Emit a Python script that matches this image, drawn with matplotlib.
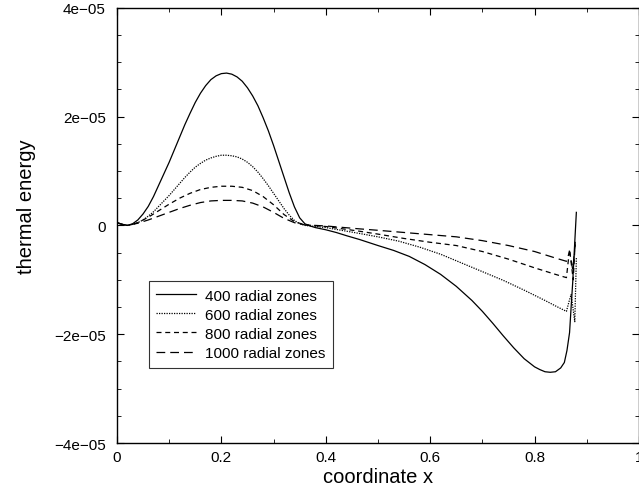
import numpy as np
import matplotlib
matplotlib.use("Agg")
import matplotlib.pyplot as plt
from matplotlib.ticker import MultipleLocator, FuncFormatter

plt.rcParams["font.family"] = ["Liberation Sans", "DejaVu Sans"]

# values, y in units of 1e-05
x400 = [0.00, 0.01, 0.02, 0.03, 0.04, 0.05, 0.06, 0.07, 0.08, 0.09, 0.10, 0.11, 0.12,
        0.13, 0.14, 0.15, 0.16, 0.17, 0.18, 0.19, 0.20, 0.21, 0.22, 0.23, 0.24, 0.25,
        0.26, 0.27, 0.28, 0.29, 0.30, 0.31, 0.32, 0.33, 0.34, 0.35, 0.36, 0.37, 0.38,
        0.40, 0.42, 0.44, 0.465, 0.50, 0.53, 0.56, 0.59, 0.62, 0.65, 0.68, 0.70, 0.72,
        0.74, 0.76, 0.78, 0.80, 0.81, 0.82, 0.83, 0.84, 0.85, 0.857, 0.862, 0.867,
        0.870, 0.873, 0.877, 0.880]
y400 = [0.05, 0.02, 0.00, 0.03, 0.10, 0.21, 0.35, 0.53, 0.74, 0.95, 1.16, 1.39, 1.62,
        1.85, 2.06, 2.26, 2.43, 2.57, 2.68, 2.75, 2.79, 2.80, 2.78, 2.73, 2.65, 2.53,
        2.38, 2.20, 1.98, 1.74, 1.47, 1.18, 0.89, 0.60, 0.34, 0.14, 0.03, -0.01, -0.04,
        -0.08, -0.13, -0.19, -0.26, -0.37, -0.46, -0.57, -0.72, -0.90, -1.12, -1.38, -1.58, -1.80,
        -2.03, -2.25, -2.45, -2.60, -2.65, -2.69, -2.70, -2.69, -2.62, -2.52, -2.30, -1.97,
        -1.50, -1.05, -0.30, 0.24]

x600 = [0.00, 0.01, 0.02, 0.03, 0.04, 0.05, 0.06, 0.07, 0.08, 0.09, 0.10, 0.11, 0.12,
        0.13, 0.14, 0.15, 0.16, 0.17, 0.18, 0.19, 0.20, 0.21, 0.22, 0.23, 0.24, 0.25,
        0.26, 0.27, 0.28, 0.29, 0.30, 0.31, 0.32, 0.33, 0.34, 0.35, 0.36, 0.38, 0.40,
        0.43, 0.46, 0.50, 0.54, 0.58, 0.62, 0.66, 0.70, 0.74, 0.78, 0.82, 0.84, 0.861,
        0.866, 0.870, 0.877, 0.880]
y600 = [0.05, 0.02, 0.00, 0.02, 0.05, 0.10, 0.17, 0.25, 0.35, 0.45, 0.55, 0.66, 0.77,
        0.88, 0.98, 1.07, 1.14, 1.20, 1.24, 1.27, 1.29, 1.29, 1.28, 1.26, 1.22, 1.16,
        1.08, 0.98, 0.86, 0.73, 0.59, 0.45, 0.31, 0.19, 0.09, 0.03, 0.00, -0.02, -0.04,
        -0.09, -0.14, -0.21, -0.29, -0.40, -0.53, -0.69, -0.85, -1.01, -1.19, -1.38, -1.48, -1.58,
        -1.40, -1.27, -1.77, -0.60]

x800 = [0.00, 0.01, 0.02, 0.03, 0.04, 0.06, 0.08, 0.10, 0.12, 0.14, 0.16, 0.18, 0.20,
        0.21, 0.22, 0.24, 0.26, 0.28, 0.30, 0.32, 0.34, 0.36, 0.40, 0.46, 0.50, 0.55,
        0.60, 0.65, 0.70, 0.75, 0.80, 0.84, 0.861, 0.867, 0.874, 0.878]
y800 = [0.05, 0.02, 0.00, 0.02, 0.05, 0.15, 0.27, 0.39, 0.50, 0.59, 0.66, 0.70, 0.72,
        0.72, 0.72, 0.70, 0.64, 0.53, 0.38, 0.20, 0.07, 0.01, -0.02, -0.10, -0.16, -0.24,
        -0.31, -0.37, -0.48, -0.62, -0.78, -0.90, -0.96, -0.44, -1.00, -0.26]

x1000 = [0.00, 0.01, 0.02, 0.03, 0.04, 0.06, 0.08, 0.10, 0.12, 0.14, 0.16, 0.18, 0.20,
         0.21, 0.22, 0.24, 0.26, 0.28, 0.30, 0.32, 0.34, 0.36, 0.40, 0.46, 0.50, 0.55,
         0.60, 0.65, 0.70, 0.75, 0.80, 0.84, 0.861, 0.867, 0.873, 0.878]
y1000 = [0.05, 0.02, 0.00, 0.02, 0.04, 0.10, 0.17, 0.24, 0.31, 0.37, 0.42, 0.45, 0.46,
         0.46, 0.46, 0.45, 0.41, 0.34, 0.24, 0.13, 0.05, 0.01, -0.01, -0.06, -0.09, -0.13,
         -0.17, -0.21, -0.28, -0.37, -0.48, -0.60, -0.66, -0.48, -0.81, -0.35]

labels = ["400 radial zones", "600 radial zones", "800 radial zones", "1000 radial zones"]
styles = ["-", (0, (1, 1)), (0, (4, 3)), (0, (7, 4))]


def sci(v, pos):
    if abs(v) < 1e-12:
        return "0"
    return f"{v:.0e}".replace("-", "\u2212")


fig = plt.figure(figsize=(6.39, 4.89), dpi=100)
ax = fig.add_axes([0.183, 0.092, 0.817, 0.890])

series = [(x400, y400), (x600, y600), (x800, y800), (x1000, y1000)]
for (xs, ys), lab, ls in zip(series, labels, styles):
    ax.plot(xs, np.array(ys) * 1e-5, color="black", lw=0.9, ls=ls, label=lab)

ax.set_xlim(0, 1)
ax.set_ylim(-4e-5, 4e-5)
ax.xaxis.set_major_locator(MultipleLocator(0.2))
ax.xaxis.set_minor_locator(MultipleLocator(0.1))
ax.yaxis.set_major_locator(MultipleLocator(2e-5))
ax.yaxis.set_minor_locator(MultipleLocator(0.5e-5))
ax.xaxis.set_major_formatter(FuncFormatter(lambda v, p: f"{v:g}"))
ax.yaxis.set_major_formatter(FuncFormatter(sci))
ax.tick_params(which="both", direction="in", top=True, right=True, labelsize=11)
ax.tick_params(axis="y", which="major", pad=8)
ax.tick_params(axis="x", which="major", pad=5)
ax.tick_params(which="major", length=5)
ax.tick_params(which="minor", length=3)
for s in ax.spines.values():
    s.set_linewidth(1.0)

ax.set_xlabel("coordinate x", fontsize=14.5, labelpad=2)
ax.set_ylabel("thermal energy", fontsize=14.5)
ax.yaxis.set_label_coords(-0.155, 0.545)

leg = ax.legend(loc="upper left", bbox_to_anchor=(0.061, 0.372), fontsize=11,
                frameon=True, fancybox=False, handlelength=2.6, borderpad=0.5,
                labelspacing=0.33, handletextpad=0.6, borderaxespad=0)
leg.get_frame().set_edgecolor("black")
leg.get_frame().set_linewidth(0.8)

fig.savefig("out.png", dpi=100)
